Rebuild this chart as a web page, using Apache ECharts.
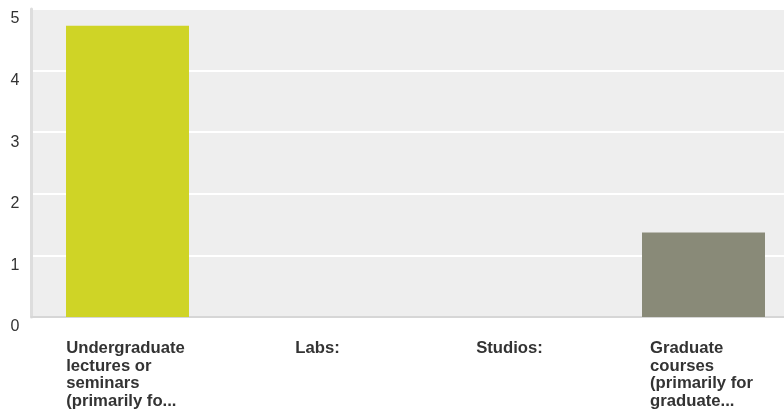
<!DOCTYPE html>
<html><head><meta charset="utf-8">
<script src="https://cdn.jsdelivr.net/npm/echarts@6/dist/echarts.min.js"></script>
<style>html,body{margin:0;padding:0;background:#fff;overflow:hidden}#c{width:800px;height:413px}</style>
</head><body><div id="c"></div>
<script>
const categories = [
  "Undergraduate\nlectures or\nseminars\n(primarily fo...",
  "Labs:",
  "Studios:",
  "Graduate\ncourses\n(primarily for\ngraduate..."
];
const values = [4.73, 0, 0, 1.37];
const barColors = ["#cfd426", "#cfd426", "#cfd426", "#898a78"];
const yTicks = [0, 1, 2, 3, 4, 5];

const chart = echarts.init(document.getElementById('c'), null, {renderer: 'canvas'});
chart.setOption({
  animation: false,
  backgroundColor: '#fff',
  grid: {left: 31.5, right: 0.5, top: 9, bottom: 96, show: true, backgroundColor: '#eeeeee', borderWidth: 0},
  xAxis: {
    type: 'category',
    data: categories,
    axisLine: {show: true, lineStyle: {color: '#d6d6d6', width: 2}},
    axisTick: {show: false},
    axisLabel: {
      interval: 0,
      margin: 22.5,
      align: 'center',
      padding: [0, 4, 0, 0],
      formatter: function (v) { return v.split('\n').map(s => '{a|' + s + '}').join('\n'); },
      rich: {a: {align: 'left', fontFamily: 'Liberation Sans, Arial, sans-serif', fontWeight: 'bold', fontSize: 16.7, lineHeight: 17.7, color: '#333'}}
    }
  },
  yAxis: {
    type: 'value',
    min: yTicks[0], max: yTicks[yTicks.length - 1], interval: 1,
    axisLine: {show: true, lineStyle: {color: '#dddddd', width: 3}},
    axisTick: {show: false},
    splitLine: {show: true, lineStyle: {color: '#ffffff', width: 2}},
    axisLabel: {
      margin: 12,
      color: '#333',
      fontSize: 16,
      fontFamily: 'Liberation Sans, Arial, sans-serif',
      verticalAlign: 'top',
      lineHeight: 20
    }
  },
  series: [{
    type: 'bar',
    data: values.map((v, i) => ({value: v, itemStyle: {color: barColors[i]}})),
    barWidth: 123
  }]
});
</script></body></html>
